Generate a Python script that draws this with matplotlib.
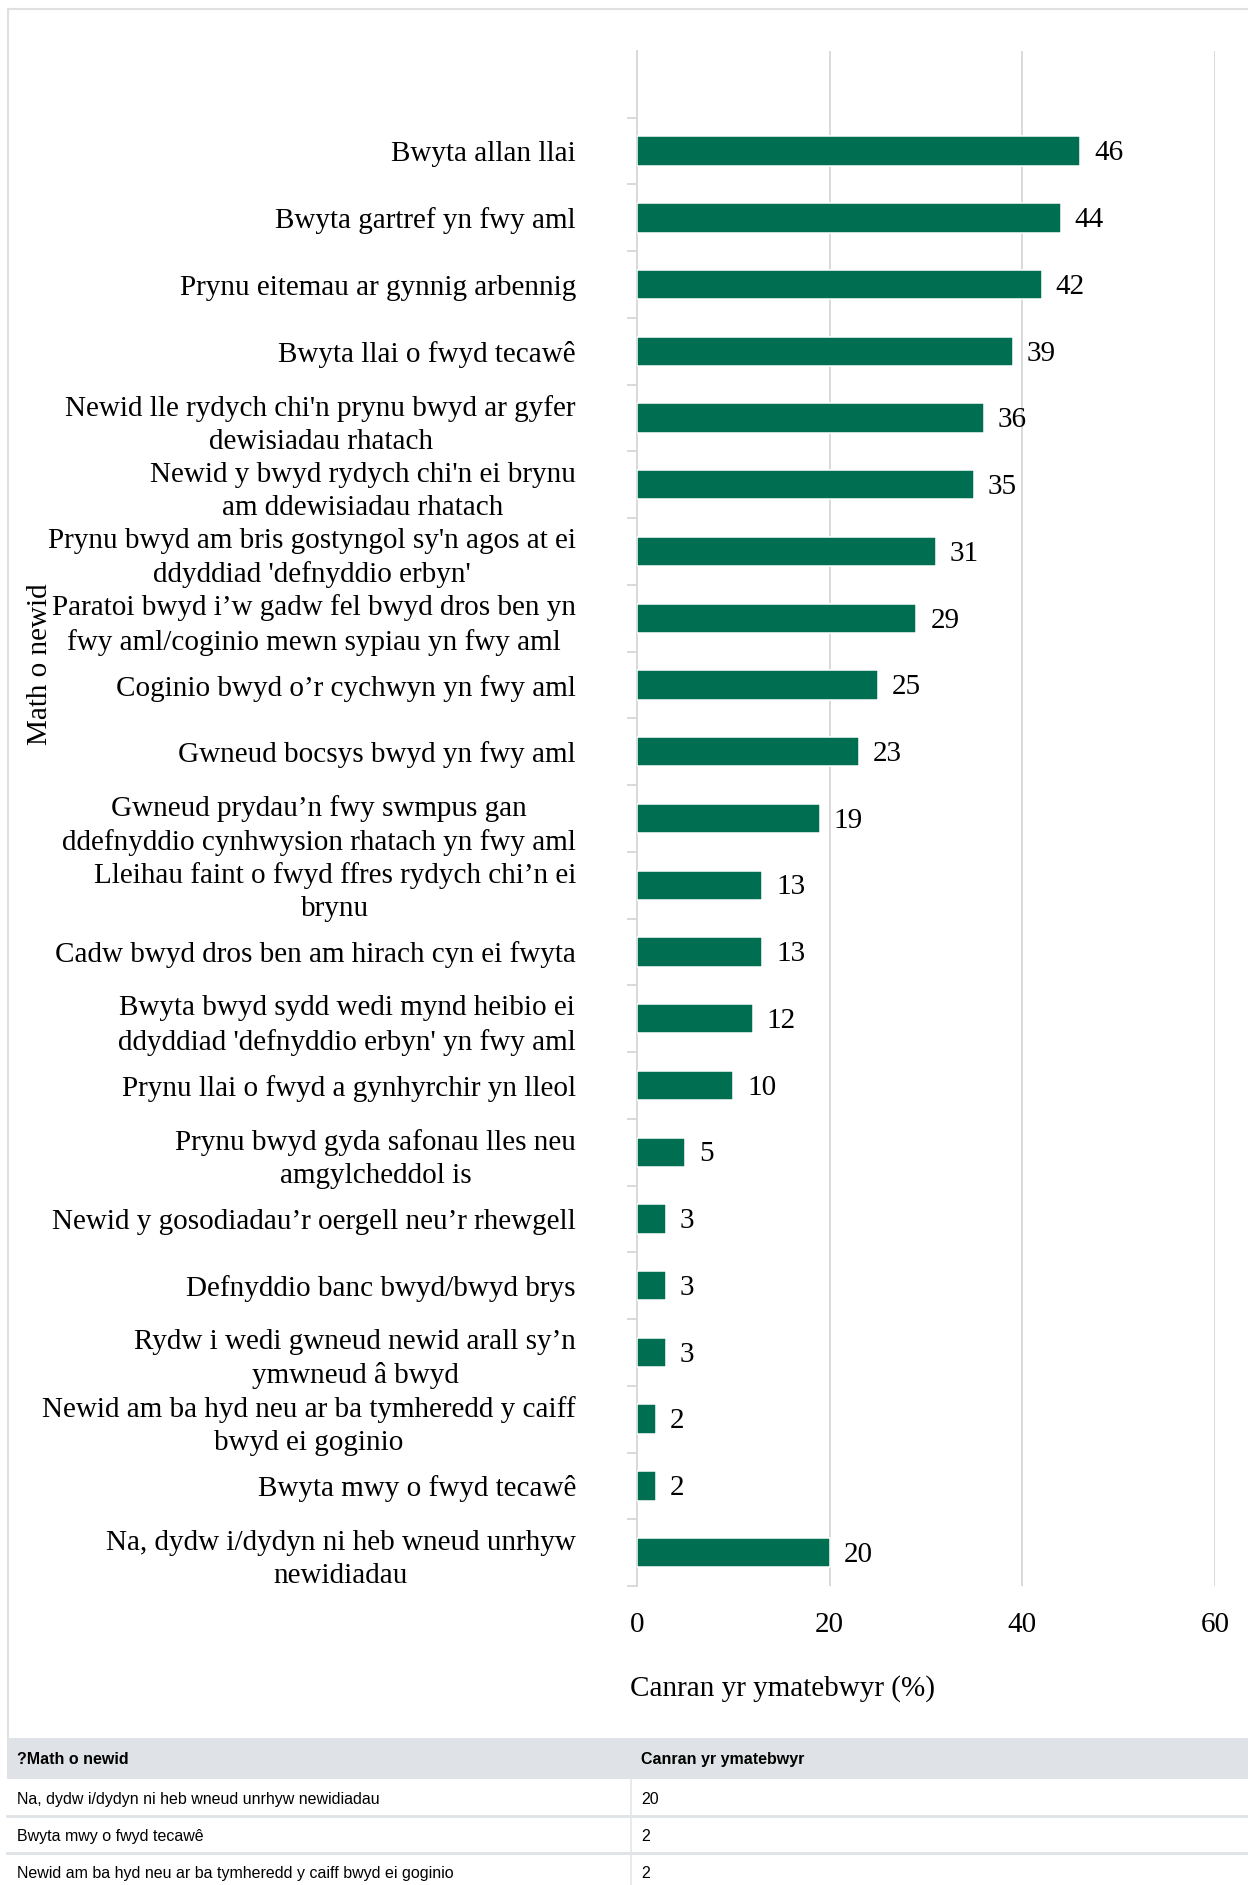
import matplotlib.pyplot as plt
from matplotlib.lines import Line2D
from matplotlib.patches import Rectangle

# categorias (de cima para baixo) e valores
categorias = [
    "Bwyta allan llai",
    "Bwyta gartref yn fwy aml",
    "Prynu eitemau ar gynnig arbennig",
    "Bwyta llai o fwyd tecawê",
    "Newid lle rydych chi'n prynu bwyd ar gyfer\ndewisiadau rhatach",
    "Newid y bwyd rydych chi'n ei brynu\nam ddewisiadau rhatach",
    "Prynu bwyd am bris gostyngol sy'n agos at ei\nddyddiad 'defnyddio erbyn'",
    "Paratoi bwyd i’w gadw fel bwyd dros ben yn\nfwy aml/coginio mewn sypiau yn fwy aml",
    "Coginio bwyd o’r cychwyn yn fwy aml",
    "Gwneud bocsys bwyd yn fwy aml",
    "Gwneud prydau’n fwy swmpus gan\nddefnyddio cynhwysion rhatach yn fwy aml",
    "Lleihau faint o fwyd ffres rydych chi’n ei\nbrynu",
    "Cadw bwyd dros ben am hirach cyn ei fwyta",
    "Bwyta bwyd sydd wedi mynd heibio ei\nddyddiad 'defnyddio erbyn' yn fwy aml",
    "Prynu llai o fwyd a gynhyrchir yn lleol",
    "Prynu bwyd gyda safonau lles neu\namgylcheddol is",
    "Newid y gosodiadau’r oergell neu’r rhewgell",
    "Defnyddio banc bwyd/bwyd brys",
    "Rydw i wedi gwneud newid arall sy’n\nymwneud â bwyd",
    "Newid am ba hyd neu ar ba tymheredd y caiff\nbwyd ei goginio",
    "Bwyta mwy o fwyd tecawê",
    "Na, dydw i/dydyn ni heb wneud unrhyw\nnewidiadau",
]
valores = [46, 44, 42, 39, 36, 35, 31, 29, 25, 23, 19, 13, 13, 12, 10, 5, 3, 3, 3, 2, 2, 20]
ticks_x = [0, 20, 40, 60]

titulo_x = "Canran yr ymatebwyr (%)"
titulo_y = "Math o newid"
cabecalho_tabela = ["?Math o newid", "Canran yr ymatebwyr"]

VERDE = "#006f51"
CINZA = "#d9d9d9"
W, H = 1248, 1885

plt.rcParams['font.family'] = ['Liberation Serif', 'DejaVu Serif']

fig = plt.figure(figsize=(W / 100, H / 100), dpi=100)
ax = fig.add_axes([637 / W, 1 - 1586 / H, 578 / W, 1535 / H])

ys = list(range(len(categorias)))
ax.barh(ys, valores, height=0.44, color=VERDE, edgecolor='white', linewidth=1.1, zorder=3)
for y, v in zip(ys, valores):
    ax.annotate(str(v), (v, y), xytext=(10, -1.6), textcoords='offset points',
                fontsize=21, ha='left', va='center')

ax.set_xlim(0, 60)
ax.set_ylim(len(categorias) - 0.5, -1.5)
ax.set_xticks(ticks_x)
ax.set_xticklabels([str(t) for t in ticks_x], fontsize=21)
ax.tick_params(axis='x', length=0, pad=19)

ax.set_yticks(ys)
ax.set_yticklabels(categorias, fontsize=21, multialignment='center', linespacing=1.35)
ax.tick_params(axis='y', which='major', length=0, pad=44)
ax.set_yticks([y - 0.5 for y in range(len(categorias) + 1)], minor=True)
ax.tick_params(axis='y', which='minor', length=7, width=1.4, color=CINZA)

ax.grid(axis='x', color=CINZA, linewidth=1.4, zorder=0)
for lado in ['top', 'right', 'bottom']:
    ax.spines[lado].set_visible(False)
ax.spines['left'].set_color(CINZA)
ax.spines['left'].set_linewidth(1.4)

fig.text(630 / W, 1 - 1689 / H, titulo_x, fontsize=21, ha='left', va='center')
fig.text(40 / W, 1 - 664 / H, titulo_y, fontsize=21, rotation=90, ha='center', va='center')

# moldura do grafico
fig.add_artist(Line2D([8 / W, 1], [1 - 9 / H, 1 - 9 / H], color='#e0e0e0', lw=1.5, transform=fig.transFigure))
fig.add_artist(Line2D([8 / W, 8 / W], [1 - 9 / H, 1 - 1738 / H], color='#e0e0e0', lw=1.5, transform=fig.transFigure))

# tabela de dados por baixo do grafico
sans = ['Liberation Sans', 'DejaVu Sans']
fig.add_artist(Rectangle((7 / W, 1 - 1779 / H), 1 - 7 / W, 41 / H, color='#dfe2e6', transform=fig.transFigure, lw=0))
fig.text(17 / W, 1 - 1759 / H, cabecalho_tabela[0], family=sans, fontsize=11.5, weight='bold', va='center')
fig.text(641 / W, 1 - 1759 / H, cabecalho_tabela[1], family=sans, fontsize=11.5, weight='bold', va='center')

topo = 1779
alt_linha = 37
for nome, val in zip(categorias[::-1], valores[::-1]):
    meio = topo + alt_linha / 2 + 2
    if meio < H - 8:
        fig.text(17 / W, 1 - meio / H, nome.replace("\n", " "), family=sans, fontsize=11.5, va='center')
        fig.text(641 / W, 1 - meio / H, str(val), family=sans, fontsize=11.5, va='center')
    fig.add_artist(Line2D([631 / W, 631 / W], [1 - topo / H, 1 - (topo + alt_linha) / H],
                          color='#e3e6ea', lw=1.2, transform=fig.transFigure))
    topo += alt_linha
    fig.add_artist(Line2D([7 / W, 1], [1 - topo / H, 1 - topo / H], color='#dfe2e6', lw=2,
                          transform=fig.transFigure))

fig.savefig('out.png', dpi=100)
